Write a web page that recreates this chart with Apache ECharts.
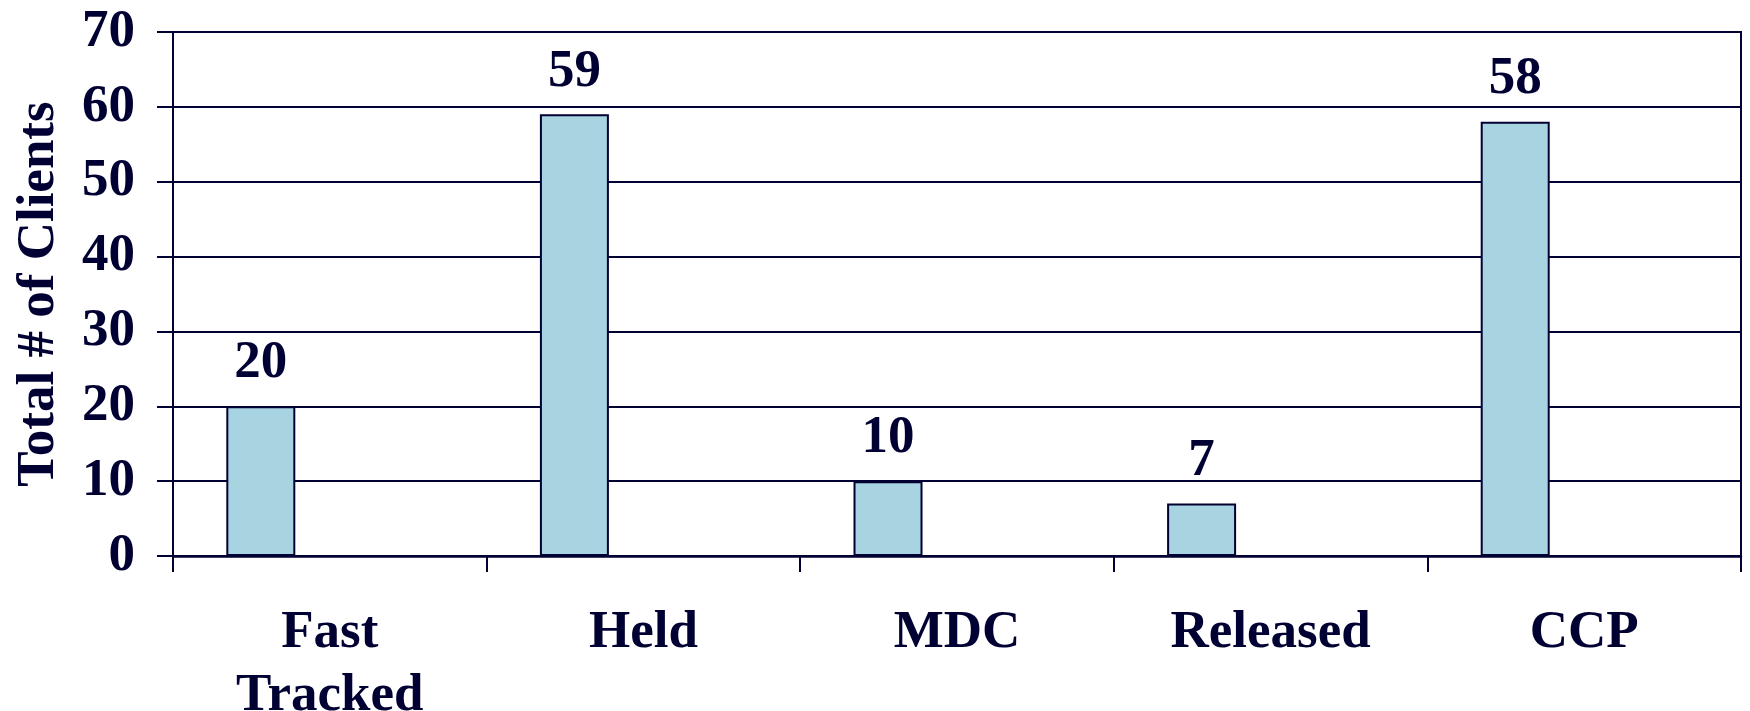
<!DOCTYPE html>
<html>
<head>
<meta charset="utf-8">
<script src="https://cdn.jsdelivr.net/npm/echarts@6/dist/echarts.min.js"></script>
<style>
  html, body { margin: 0; padding: 0; background: #ffffff; }
  #chart { width: 1750px; height: 711px; }
</style>
</head>
<body>
<div id="chart"></div>
<script>
// Client outcome categories and counts
const categories = ['Fast\nTracked', 'Held', 'MDC', 'Released', 'CCP'];
const clientCounts = [20, 59, 10, 7, 58];
// Two empty companion series keep each bar in the left third of its slot
const secondSeries = [];
const thirdSeries = [];
const yTicks = { min: 0, max: 70, interval: 10 };

const ink = '#000033';
const font = '"Liberation Serif", "Times New Roman", serif';
const fontSize = 53;

const chart = echarts.init(document.getElementById('chart'), null, { renderer: 'canvas' });

chart.setOption({
  animation: false,
  backgroundColor: '#ffffff',
  grid: {
    left: 173, right: 9, top: 32, bottom: 155,
    outerBoundsMode: 'none',
    containLabel: false,
    show: true, borderColor: ink, borderWidth: 2, backgroundColor: 'transparent'
  },
  xAxis: {
    type: 'category',
    data: categories,
    boundaryGap: true,
    axisLine: { show: true, lineStyle: { color: ink, width: 2.5 } },
    axisTick: { show: true, length: 16, inside: false, lineStyle: { color: ink, width: 2 } },
    axisLabel: {
      margin: 46, color: ink, fontFamily: font, fontWeight: 'bold', fontSize: fontSize,
      lineHeight: 63, interval: 0
    },
    splitLine: { show: false }
  },
  yAxis: {
    type: 'value',
    min: yTicks.min, max: yTicks.max, interval: yTicks.interval,
    name: 'Total # of Clients',
    nameLocation: 'middle',
    nameGap: 107,
    nameRotate: 90,
    nameTextStyle: { color: ink, fontFamily: font, fontWeight: 'bold', fontSize: fontSize },
    axisLine: { show: true, lineStyle: { color: ink, width: 2 } },
    axisTick: { show: true, length: 16, inside: false, lineStyle: { color: ink, width: 2 } },
    axisLabel: { margin: 38, color: ink, fontFamily: font, fontWeight: 'bold', fontSize: fontSize },
    splitLine: { show: true, lineStyle: { color: ink, width: 2 } }
  },
  series: [
    {
      type: 'bar',
      data: clientCounts,
      barGap: '0%',
      barCategoryGap: '34%',
      itemStyle: { color: '#a8d3e0', borderColor: ink, borderWidth: 2 },
      label: {
        show: true, position: 'top', distance: 16,
        color: ink, fontFamily: font, fontWeight: 'bold', fontSize: fontSize
      }
    },
    { type: 'bar', data: secondSeries, barGap: '0%', barCategoryGap: '34%' },
    { type: 'bar', data: thirdSeries, barGap: '0%', barCategoryGap: '34%' }
  ]
});
</script>
</body>
</html>
